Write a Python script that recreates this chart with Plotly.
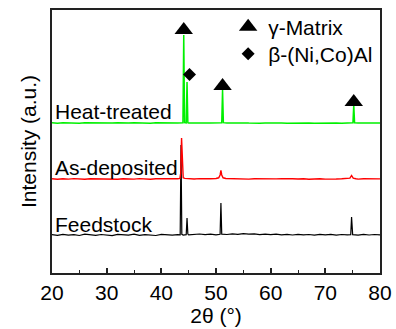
import plotly.graph_objects as go

# ---- data (2θ in degrees, intensity in arbitrary units incl. vertical offset) ----
x_feed = [20, 21, 22, 23, 24, 25, 26, 27, 28, 29, 30, 31, 32, 33, 34, 35, 36, 37, 38, 39,
          40, 41, 42, 43, 43.45, 43.6, 43.75, 44, 44.55, 44.7, 44.85, 45, 46, 47, 48, 49,
          50, 50.75, 50.9, 51.05, 52, 53, 54, 55, 56, 57, 58, 59, 60, 61, 62, 63, 64, 65,
          66, 67, 68, 69, 70, 71, 72, 73, 74, 74.65, 74.8, 74.95, 75, 76, 77, 78, 79, 80]
y_feed = [38.4, 37.7, 38.6, 37.9, 38.3, 37.5, 38.8, 38.0, 37.6, 38.5, 38.1, 37.4, 38.7, 38.0,
          37.8, 38.9, 37.6, 38.3, 38.0, 37.5, 38.7, 38.1, 37.8, 38.4, 38.2, 128, 38.6, 37.9,
          38.3, 55, 38.9, 38.1, 38.7, 39.0, 38.4, 38.9, 38.2, 38.7, 70, 38.8, 38.5, 39.2,
          38.6, 39.3, 38.8, 39.1, 38.4, 38.9, 38.3, 38.8, 38.2, 38.6, 38.0, 38.7, 38.1, 38.5,
          37.9, 38.6, 38.2, 38.7, 37.9, 38.5, 38.1, 38.4, 56, 38.8, 38.3, 37.8, 38.6, 38.0,
          38.5, 38.2]

x_asdep = [20, 21, 22, 23, 24, 25, 26, 27, 28, 29, 30, 31, 32, 33, 34, 35, 36, 37, 38, 39,
           40, 41, 42, 43, 43.4, 43.55, 43.7, 43.85, 44.0, 44.3, 45, 46, 47, 48, 49, 50,
           50.5, 50.75, 50.9, 51.05, 51.3, 51.8, 53, 54, 55, 56, 57, 58, 59, 60, 61, 62,
           63, 64, 65, 66, 67, 68, 69, 70, 71, 72, 73, 74, 74.5, 74.8, 75.1, 75.6, 76, 77,
           78, 79, 80]
y_asdep = [94.3, 93.8, 94.2, 93.9, 94.4, 94.0, 93.7, 94.3, 94.1, 93.8, 94.2, 94.0, 93.7, 94.3,
           94.0, 93.9, 94.4, 94.0, 93.8, 94.2, 94.1, 93.9, 94.3, 94.2, 94.6, 100, 135, 100,
           95.2, 94.6, 94.3, 94.0, 94.4, 94.1, 94.3, 94.5, 95.2, 98, 102.5, 98, 95.2, 94.5,
           94.2, 94.0, 94.4, 93.9, 94.2, 94.0, 94.3, 93.8, 94.1, 94.3, 93.9, 94.2, 94.0, 94.3,
           93.8, 94.1, 94.2, 93.9, 94.3, 94.0, 94.2, 94.1, 94.8, 97.5, 94.8, 94.2, 93.9, 94.3,
           94.0, 94.2, 94.1]

x_heat = [20, 21, 22, 23, 24, 25, 26, 27, 28, 29, 30, 31, 32, 33, 34, 35, 36, 37, 38, 39,
          40, 41, 42, 43, 43.95, 44.1, 44.25, 44.55, 44.7, 44.85, 45, 46, 47, 48, 49, 50,
          51.05, 51.2, 51.35, 52, 53, 54, 55, 56, 57, 58, 59, 60, 61, 62, 63, 64, 65, 66,
          67, 68, 69, 70, 71, 72, 73, 74, 75.05, 75.2, 75.35, 76, 77, 78, 79, 80]
y_heat = [150.2, 149.8, 150.3, 149.9, 150.1, 149.7, 150.2, 150.0, 149.8, 150.3, 150.1, 149.9,
          150.2, 149.8, 150.0, 150.3, 149.9, 150.1, 149.8, 150.2, 150.0, 149.7, 150.1, 150.0,
          150.3, 238, 150.4, 150.2, 191, 150.3, 150.0, 149.8, 150.2, 149.9, 150.1, 150.0,
          150.2, 183, 150.3, 149.9, 150.2, 149.8, 150.1, 149.9, 150.2, 149.8, 150.0, 150.2,
          149.9, 150.1, 149.8, 150.0, 150.2, 149.9, 150.1, 149.8, 150.0, 150.2, 149.9, 150.1,
          149.8, 150.0, 150.2, 168, 150.2, 149.9, 150.1, 149.8, 150.0, 150.1]

gamma_x = [44.1, 51.2, 75.2]
gamma_y = [243, 187, 171]
beta_x = [45.15]
beta_y = [198.5]

sample_names = ["Feedstock", "As-deposited", "Heat-treated"]
sample_label_y = [49, 106, 162]
x_ticks = [20, 30, 40, 50, 60, 70, 80]

FONT = "Liberation Sans, Arial, sans-serif"

fig = go.Figure()
fig.add_trace(go.Scatter(x=x_feed, y=y_feed, mode="lines", line=dict(color="#000000", width=1.2),
                         showlegend=False, name="Feedstock"))
fig.add_trace(go.Scatter(x=x_asdep, y=y_asdep, mode="lines", line=dict(color="#ff0000", width=1.4),
                         showlegend=False, name="As-deposited"))
fig.add_trace(go.Scatter(x=x_heat, y=y_heat, mode="lines", line=dict(color="#00f000", width=1.5),
                         showlegend=False, name="Heat-treated"))
fig.add_trace(go.Scatter(x=gamma_x, y=gamma_y, mode="markers", name="γ-Matrix", legend="legend",
                         marker=dict(symbol="triangle-up", size=16, color="#000000")))
fig.add_trace(go.Scatter(x=beta_x, y=beta_y, mode="markers", name="β-(Ni,Co)Al", legend="legend2",
                         marker=dict(symbol="diamond", size=10, color="#000000")))

for name, yy in zip(sample_names, sample_label_y):
    fig.add_annotation(x=20, y=yy, xref="x", yref="y", text=name, showarrow=False,
                       xanchor="left", yanchor="middle", xshift=1,
                       font=dict(family=FONT, size=21, color="#000000"))

leg_common = dict(xanchor="left", yanchor="middle",
                  bgcolor="rgba(0,0,0,0)", font=dict(family=FONT, size=21), itemsizing="trace")
fig.update_layout(
    width=396, height=329,
    margin=dict(l=52, r=16, t=10, b=56, autoexpand=False),
    paper_bgcolor="white", plot_bgcolor="white",
    font=dict(family=FONT, size=21, color="#000000"),
    legend=dict(x=0.537, y=0.935, **leg_common),
    legend2=dict(x=0.537, y=0.832, **leg_common),
)
fig.update_xaxes(range=[20, 80], tickvals=x_ticks, ticks="inside", ticklen=5, tickwidth=1.5,
                 tickcolor="#222", minor=dict(ticks="inside", ticklen=3, tickwidth=1.2,
                                                dtick=5, tickcolor="#222"),
                 showline=True, linecolor="#222", linewidth=1.8, mirror=True,
                 showgrid=False, zeroline=False, automargin=False,
                 title=dict(text="2θ (°)", standoff=4, font=dict(family=FONT, size=21)),
                 tickfont=dict(family=FONT, size=21))
fig.update_yaxes(range=[0, 263], showticklabels=False, ticks="",
                 showline=True, linecolor="#222", linewidth=1.8, mirror=True,
                 showgrid=False, zeroline=False, automargin=False,
                 title=dict(text="Intensity (a.u.)", standoff=8, font=dict(family=FONT, size=21)))

fig.write_html("out.html")
